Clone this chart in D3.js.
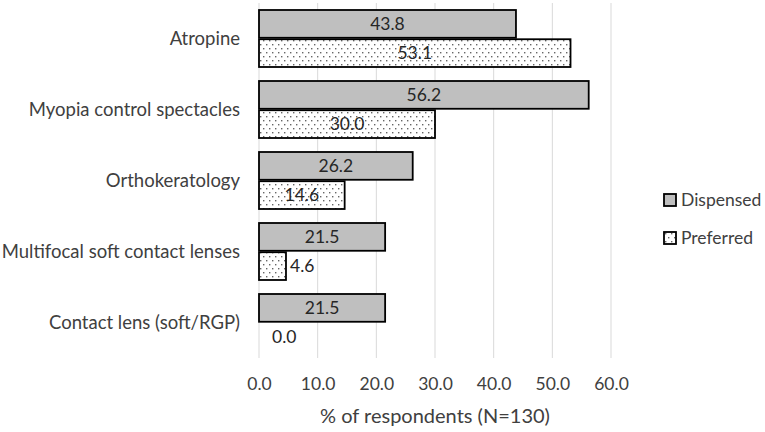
<!DOCTYPE html>
<html lang="en">
<head>
<meta charset="UTF-8">
<title>Myopia control</title>
<script src="https://cdn.jsdelivr.net/npm/d3@7"></script>
<style>
    body { margin: 0; background: #fff; }
    text { font-family: Lato, "Open Sans", sans-serif; fill: #404040; }
</style>
</head>
<body>
<script>
    // chart data
    const categories = ["Atropine", "Myopia control spectacles", "Orthokeratology",
        "Multifocal soft contact lenses", "Contact lens (soft/RGP)"];
    const seriesNames = ["Dispensed", "Preferred"];
    const dispensed = [43.8, 56.2, 26.2, 21.5, 21.5];
    const preferred = [53.1, 30.0, 14.6, 4.6, 0.0];
    const xTicks = [0, 10, 20, 30, 40, 50, 60];
    const xTitle = "% of respondents (N=130)";

    const width = 765, height = 432;
    const margin = { top: 3, left: 259, right: 154, bottom: 74 };
    const innerW = width - margin.left - margin.right;
    const innerH = height - margin.top - margin.bottom;

    const svg = d3.select("body").append("svg")
        .attr("width", width).attr("height", height);

    // dotted fill for "Preferred"
    const defs = svg.append("defs");
    const pat = defs.append("pattern").attr("id", "dots")
        .attr("patternUnits", "userSpaceOnUse")
        .attr("width", 6).attr("height", 8);
    pat.append("rect").attr("width", 6).attr("height", 8).attr("fill", "#fff");
    pat.append("rect").attr("x", 1).attr("y", 1).attr("width", 1.4).attr("height", 1.4).attr("fill", "#666");
    pat.append("rect").attr("x", 4).attr("y", 5).attr("width", 1.4).attr("height", 1.4).attr("fill", "#666");

    const fills = ["#bfbfbf", "url(#dots)"];

    const g = svg.append("g").attr("transform", `translate(${margin.left},${margin.top})`);

    const x = d3.scaleLinear().domain([0, 60]).range([0, innerW]);
    const y = d3.scaleBand().domain(categories).range([0, innerH]).paddingInner(0).paddingOuter(0);
    const ySub = d3.scaleBand().domain(seriesNames).range([7, y.bandwidth() - 7]).paddingInner(0.05);

    // gridlines
    g.append("g").selectAll("line").data(xTicks).join("line")
        .attr("x1", d => x(d)).attr("x2", d => x(d))
        .attr("y1", 0).attr("y2", innerH)
        .attr("stroke", "#d9d9d9").attr("stroke-width", 1);

    // x axis labels
    const xAxis = g.append("g").attr("transform", `translate(0,${innerH})`)
        .call(d3.axisBottom(x).tickValues(xTicks).tickFormat(d3.format(".1f")).tickSize(0).tickPadding(20));
    xAxis.select(".domain").remove();
    xAxis.selectAll("text").attr("font-size", 17.5).attr("font-family", null).style("fill", "#404040");

    g.append("text")
        .attr("x", innerW / 2).attr("y", innerH + 65)
        .attr("text-anchor", "middle").attr("font-size", 20)
        .text(xTitle);

    // category labels
    g.append("g").selectAll("text").data(categories).join("text")
        .attr("x", -19).attr("y", d => y(d) + y.bandwidth() / 2)
        .attr("dy", "0.35em").attr("text-anchor", "end").attr("font-size", 18.5)
        .text(d => d);

    const rows = [];
    categories.forEach((c, i) => {
        rows.push({ cat: c, s: "Dispensed", v: dispensed[i], k: 0 });
        rows.push({ cat: c, s: "Preferred", v: preferred[i], k: 1 });
    });

    g.append("g").selectAll("rect").data(rows.filter(d => d.v > 0)).join("rect")
        .attr("x", x(0))
        .attr("y", d => y(d.cat) + ySub(d.s))
        .attr("width", d => x(d.v) - x(0))
        .attr("height", ySub.bandwidth())
        .attr("fill", d => fills[d.k])
        .attr("stroke", "#000").attr("stroke-width", 1.8);

    // value labels: centred, pushed outside when the bar is too short
    g.append("g").selectAll("text").data(rows).join("text")
        .attr("y", d => y(d.cat) + ySub(d.s) + ySub.bandwidth() / 2)
        .attr("dy", "0.36em")
        .attr("font-size", 17.5)
        .style("fill", "#262626")
        .attr("text-anchor", d => (x(d.v) - x(0)) < 40 ? "start" : "middle")
        .attr("x", d => (x(d.v) - x(0)) < 40 ? Math.max(x(d.v) + 4, 13) : x(d.v) / 2)
        .text(d => d3.format(".1f")(d.v));

    // legend
    const legend = svg.append("g").attr("transform", "translate(664,194)");
    seriesNames.forEach((s, i) => {
        const row = legend.append("g").attr("transform", `translate(0,${i * 38})`);
        row.append("rect").attr("width", 12).attr("height", 12)
            .attr("fill", fills[i]).attr("stroke", "#000").attr("stroke-width", 1.8);
        row.append("text").attr("x", 17).attr("y", 6).attr("dy", "0.36em")
            .attr("font-size", 17.5).text(s);
    });
</script>
</body>
</html>
